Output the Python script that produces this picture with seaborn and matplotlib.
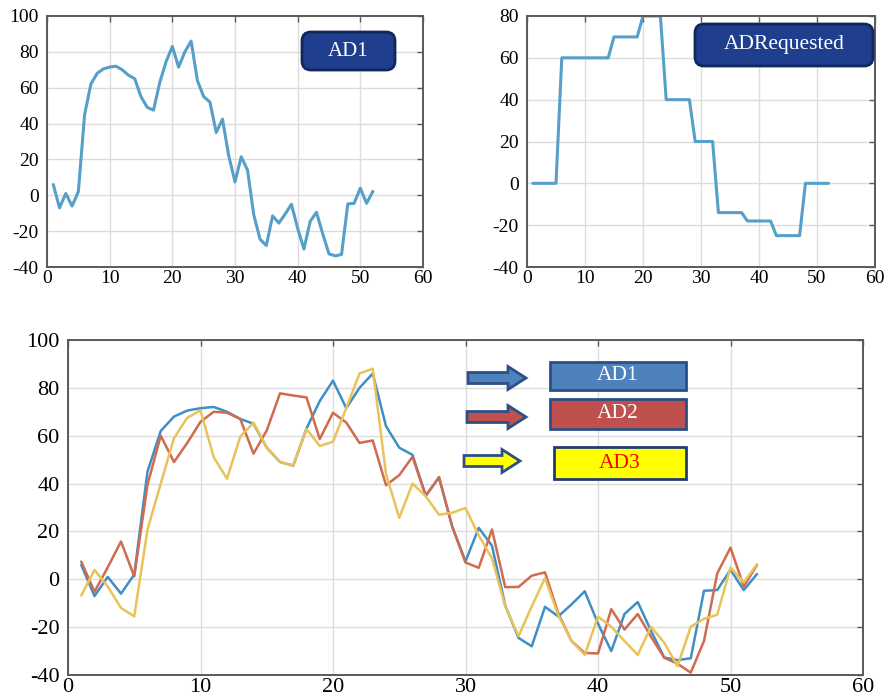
import numpy as np
import pandas as pd
import matplotlib
matplotlib.use("Agg")
import matplotlib.pyplot as plt
from matplotlib.patches import FancyBboxPatch, FancyArrow
import seaborn as sns

# ---------------- data ----------------
steps = list(range(1, 53))

ad1 = [6, -7, 1, -6, 2, 45, 62, 68, 70.5, 71.5, 72, 70, 67, 65, 55, 49, 47.5, 63, 74.5, 83,
       71.5, 80, 86, 64, 55, 52, 35, 42.5, 22, 7.5, 21.5, 14, -11, -24.5, -28, -11.5, -15.5, -10.5, -5, -18.5,
       -30, -14.5, -9.5, -21.5, -32.7, -33.8, -33, -4.8, -4.5, 4, -4.5, 2.2]

ad2 = [7.4, -5.2, 5, 15.8, 1.2, 39.5, 60, 49, 57, 65.8, 70, 69.6, 67, 52.5, 62.2, 77.7, 76.8, 76, 58.6, 69.6,
       65.5, 57, 58, 39.3, 43.5, 51.2, 34.8, 42.7, 22, 7, 4.8, 20.8, -3.3, -3.2, 1.5, 2.9, -14.2, -25.8, -30.8, -31,
       -12.5, -21, -14.5, -24, -32.8, -35.3, -39, -25.8, 2.5, 13.2, -3, 6]

ad3 = [-6.8, 3.9, -3, -12, -15.5, 20.8, 40, 59, 67.5, 70.6, 51, 42, 59.6, 65.4, 55, 49, 47.6, 62.8, 55.7, 57.5,
       71.5, 86, 88, 44, 25.7, 40, 34.7, 27, 27.8, 29.8, 18.3, 8.8, -11.3, -23.8, -11.3, 0.5, -15, -25.8, -31.6, -15.6,
       -19.8, -25.8, -31.6, -19.8, -26.5, -36.3, -19.8, -16.5, -14.8, 4.9, -1.3, 6.3]

ad_requested = [0, 0, 0, 0, 0, 60, 60, 60, 60, 60, 60, 60, 60, 60, 70, 70, 70, 70, 70, 80,
                80, 80, 80, 40, 40, 40, 40, 40, 20, 20, 20, 20, -14, -14, -14, -14, -14, -18, -18, -18,
                -18, -18, -25, -25, -25, -25, -25, 0, 0, 0, 0, 0]

x_ticks = [0, 10, 20, 30, 40, 50, 60]
y_ticks_a = [-40, -20, 0, 20, 40, 60, 80, 100]
y_ticks_b = [-40, -20, 0, 20, 40, 60, 80]

series_names = ["AD1", "AD2", "AD3"]

# ---------------- style ----------------
sns.set_style("whitegrid")
plt.rcParams["font.family"] = ["Liberation Serif", "DejaVu Serif"]
plt.rcParams["axes.unicode_minus"] = False

W, H = 893, 697
fig = plt.figure(figsize=(W / 100, H / 100), dpi=100)


def fig_axes(l, t, r, b):
    return fig.add_axes([l / W, 1 - b / H, (r - l) / W, (b - t) / H])


def style_axes(ax, yticks, fs):
    ax.set_xlim(0, 60)
    ax.set_ylim(yticks[0], yticks[-1])
    ax.set_xticks(x_ticks)
    ax.set_yticks(yticks)
    ax.grid(True, color="#dcdcdc", linewidth=1.0)
    for s in ax.spines.values():
        s.set_visible(True)
        s.set_color("#5a5a5a")
        s.set_linewidth(1.4)
    ax.tick_params(axis="both", direction="in", length=4, width=1.0, color="#5a5a5a",
                   top=True, right=True, labelsize=fs, labelcolor="black")
    ax.tick_params(axis="y", pad=6)
    ax.tick_params(axis="x", pad=2)
    ax.set_xlabel("")
    ax.set_ylabel("")
    ax.set_facecolor("white")


line_blue = "#559fc9"

# top-left
ax1 = fig_axes(47, 16, 423, 267)
df1 = pd.DataFrame({"step": steps, "value": ad1})
sns.lineplot(data=df1, x="step", y="value", ax=ax1, color=line_blue, linewidth=2.2)
style_axes(ax1, y_ticks_a, 14)

# top-right
ax2 = fig_axes(527, 16, 875, 267)
df2 = pd.DataFrame({"step": steps, "value": ad_requested})
sns.lineplot(data=df2, x="step", y="value", ax=ax2, color=line_blue, linewidth=2.2)
style_axes(ax2, y_ticks_b, 14)

# bottom
ax3 = fig_axes(68, 340, 863, 675)
df3 = pd.DataFrame({"step": steps * 3,
                    "value": ad1 + ad2 + ad3,
                    "series": sum([[n] * len(steps) for n in series_names], [])})
sns.lineplot(data=df3, x="step", y="value", hue="series", ax=ax3,
             palette={"AD1": "#3f8fc6", "AD2": "#cf6b4e", "AD3": "#e9c25a"},
             linewidth=1.8, legend=False)
style_axes(ax3, y_ticks_a, 16)

# ---------------- annotation boxes (pixel/inch coords) ----------------
T = fig.dpi_scale_trans


def px_box(l, t, r, b, fc, ec, lw, rounding, text, tc, fs):
    x0, y0 = l / 100, (H - b) / 100
    w, h = (r - l) / 100, (b - t) / 100
    style = f"round,pad=0,rounding_size={rounding}" if rounding else "square,pad=0"
    p = FancyBboxPatch((x0, y0), w, h, boxstyle=style, transform=T,
                       facecolor=fc, edgecolor=ec, linewidth=lw, zorder=10)
    fig.patches.append(p)
    fig.text((l + r) / 2 / W, 1 - (t + b) / 2 / H, text, color=tc, fontsize=fs,
             ha="center", va="center", zorder=11)


def px_arrow(l, r, yc, fc, ec):
    x0, y0 = l / 100, (H - yc) / 100
    a = FancyArrow(x0, y0, (r - l) / 100, 0, width=0.11, head_width=0.23,
                   head_length=0.18, length_includes_head=True, transform=T,
                   facecolor=fc, edgecolor=ec, linewidth=2.0, zorder=10)
    fig.patches.append(a)


px_box(302, 32, 395, 70, "#1f3f8e", "#10285a", 2.0, 0.09, "AD1", "white", 15)
px_box(695, 24, 873, 66, "#1f3f8e", "#10285a", 2.0, 0.09, "ADRequested", "white", 15.5)

px_box(550, 362, 686, 390, "#4f81bd", "#2c4f86", 2.0, None, "AD1", "white", 15.5)
px_box(550, 399, 686, 429, "#c0504d", "#2c4f86", 2.0, None, "AD2", "white", 15.5)
px_box(554, 447, 686, 479, "#ffff00", "#203c74", 2.0, None, "AD3", "#ff0000", 15.5)

px_arrow(468, 526, 378, "#4f81bd", "#2c4f86")
px_arrow(467, 526, 417, "#c0504d", "#2c4f86")
px_arrow(464, 520, 461, "#ffff00", "#2c4f86")

fig.savefig("out.png", dpi=100, facecolor="white")
